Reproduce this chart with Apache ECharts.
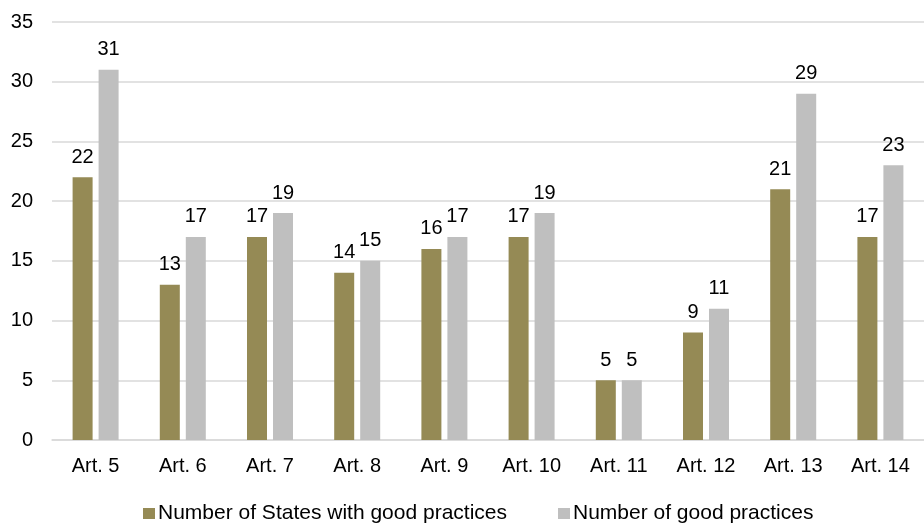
<!DOCTYPE html>
<html>
<head>
<meta charset="utf-8">
<script src="https://cdn.jsdelivr.net/npm/echarts@6/dist/echarts.min.js"></script>
<style>
  html, body { margin: 0; padding: 0; background: #fff; overflow: hidden; }
  #chart { width: 924px; height: 525px; }
</style>
</head>
<body>
<div id="chart"></div>
<script>
// categories and values
const categories = ['Art. 5', 'Art. 6', 'Art. 7', 'Art. 8', 'Art. 9', 'Art. 10', 'Art. 11', 'Art. 12', 'Art. 13', 'Art. 14']
const statesWithPractices = [22, 13, 17, 14, 16, 17, 5, 9, 21, 17]
const goodPractices = [31, 17, 19, 15, 17, 19, 5, 11, 29, 23]
const seriesNames = ['Number of States with good practices', 'Number of good practices']

const chart = echarts.init(document.getElementById('chart'))

const labelStyle = {
    show: true,
    position: 'top',
    distance: 10,
    color: '#000',
    fontSize: 20,
    fontFamily: 'Liberation Sans'
}

chart.setOption({
    animation: false,
    grid: { left: 52, right: -13, top: 22, bottom: 85 },
    xAxis: {
        type: 'category',
        data: categories,
        axisLine: { lineStyle: { color: '#d9d9d9', width: 1.5 } },
        axisTick: { show: false },
        axisLabel: { color: '#000', fontSize: 20, fontFamily: 'Liberation Sans', margin: 16 }
    },
    yAxis: {
        type: 'value',
        min: 0,
        max: 35,
        interval: 5,
        axisLine: { show: false },
        axisTick: { show: false },
        splitLine: { lineStyle: { color: '#d9d9d9', width: 1.5 } },
        axisLabel: { color: '#000', fontSize: 20, fontFamily: 'Liberation Sans', margin: 19 }
    },
    legend: {
        top: 503,
        left: 143,
        padding: 0,
        itemWidth: 12,
        itemHeight: 11,
        itemGap: 51,
        icon: 'rect',
        textStyle: { color: '#000', fontSize: 21, fontFamily: 'Liberation Sans', padding: [0, 0, 0, -2] }
    },
    series: [
        {
            name: seriesNames[0],
            type: 'bar',
            data: statesWithPractices,
            barWidth: 20,
            barGap: '30%',
            itemStyle: { color: '#958a55' },
            label: labelStyle
        },
        {
            name: seriesNames[1],
            type: 'bar',
            data: goodPractices,
            barWidth: 20,
            itemStyle: { color: '#bfbfbf' },
            label: labelStyle
        }
    ]
})
</script>
</body>
</html>
